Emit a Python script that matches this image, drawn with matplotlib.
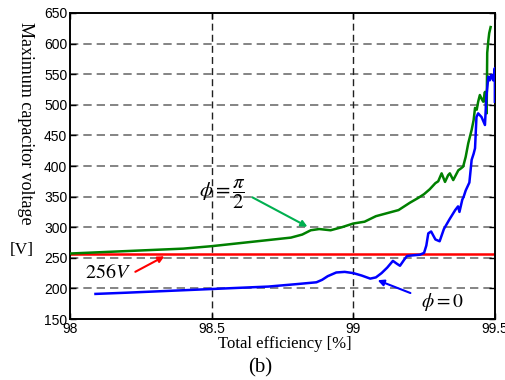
import matplotlib
matplotlib.use("Agg")
import matplotlib.pyplot as plt

plt.rcParams["mathtext.fontset"] = "stix"

# phi = pi/2 curve (green)
eff_green = [98.0, 98.1, 98.2, 98.3, 98.4, 98.5, 98.6, 98.7, 98.78, 98.82, 98.85, 98.88,
             98.92, 98.96, 99.0, 99.04, 99.08, 99.12, 99.16, 99.2, 99.23, 99.25, 99.27,
             99.29, 99.3, 99.312, 99.324, 99.335, 99.341, 99.353, 99.362, 99.371, 99.38,
             99.388, 99.397, 99.406, 99.412, 99.418, 99.425, 99.43, 99.436, 99.441, 99.447,
             99.453, 99.459, 99.465, 99.471, 99.473, 99.477, 99.48, 99.485]
v_green = [257, 259, 261, 263, 265, 269, 274, 279, 283, 288, 295, 297,
           295, 300, 306, 309, 318, 323, 328, 340, 348, 354, 362,
           372, 375, 388, 374, 385, 388, 377, 385, 393, 396,
           399, 415, 437, 448, 459, 475, 495, 492, 505, 516,
           510, 505, 521, 486, 585, 605, 617, 627]

# phi = 0 curve (blue)
eff_blue = [98.09, 98.2, 98.3, 98.4, 98.5, 98.6, 98.7, 98.8, 98.87, 98.89, 98.91, 98.94,
            98.97, 99.0, 99.03, 99.06, 99.08, 99.1, 99.12, 99.14, 99.155, 99.165, 99.18,
            99.19, 99.21, 99.235, 99.25, 99.258, 99.265, 99.275, 99.29, 99.305, 99.32,
            99.34, 99.36, 99.37, 99.375, 99.385, 99.39, 99.397, 99.41, 99.418, 99.425,
            99.43, 99.435, 99.441, 99.453, 99.465, 99.47, 99.477, 99.482, 99.488, 99.494,
            99.5, 99.5]
v_blue = [191, 193, 195, 197, 199, 201, 203, 207, 210, 214, 220, 226,
          227, 225, 221, 216, 218, 225, 234, 245, 240, 237, 247,
          253, 254, 255, 258, 270, 290, 293, 280, 277, 297,
          313, 328, 334, 325, 345, 350, 360, 373, 410, 420,
          429, 480, 486, 480, 467, 513, 546, 540, 549, 540,
          560, 505]

limit_v = 256
x_ticks = [98, 98.5, 99, 99.5]
x_ticklabels = ["98", "98.5", "99", "99.5"]
y_ticks = [150, 200, 250, 300, 350, 400, 450, 500, 550, 600, 650]

serif = ["Liberation Serif", "DejaVu Serif"]

fig = plt.figure(figsize=(5.06, 3.80), dpi=100)
ax = fig.add_axes([0.1383, 0.1605, 0.8397, 0.8053])

# grid
for yv in y_ticks[1:-1]:
    ax.axhline(yv, color="#707070", lw=1.2, ls=(0, (5, 3)), zorder=1)
for xv in x_ticks[1:-1]:
    ax.axvline(xv, color="#202020", lw=1.0, ls=(0, (5, 3)), zorder=1)

ax.plot(eff_green, v_green, color="#008000", lw=1.8, zorder=3)
ax.plot(eff_blue, v_blue, color="#0000ff", lw=1.8, zorder=3)
ax.axhline(limit_v, color="#ff0000", lw=1.8, zorder=2)

ax.set_xlim(98, 99.5)
ax.set_ylim(150, 650)
ax.set_xticks(x_ticks)
ax.set_xticklabels(x_ticklabels)
ax.set_yticks(y_ticks)
ax.tick_params(direction="in", top=True, right=True, length=4, width=1,
               labelsize=10, pad=2)
for lab in ax.get_xticklabels() + ax.get_yticklabels():
    lab.set_family("Liberation Sans")
for s in ax.spines.values():
    s.set_linewidth(1.4)

# annotations
ax.annotate("", xy=(98.847, 298.7), xytext=(98.635, 351),
            arrowprops=dict(arrowstyle="-|>", color="#00b050", lw=1.5, mutation_scale=9))
ax.text(98.537, 354, r"$\phi = \dfrac{\pi}{2}$", ha="center", va="center",
        fontsize=15, family=serif)
ax.annotate("", xy=(98.342, 254.6), xytext=(98.222, 225),
            arrowprops=dict(arrowstyle="-|>", color="#ff0000", lw=1.5, mutation_scale=9))
ax.text(98.135, 225, r"$256V$", ha="center", va="center", fontsize=14.5, family=serif)
ax.annotate("", xy=(99.077, 215), xytext=(99.211, 190.8),
            arrowprops=dict(arrowstyle="-|>", color="#0000ff", lw=1.5, mutation_scale=9))
ax.text(99.313, 178, r"$\phi = 0$", ha="center", va="center", fontsize=14, family=serif)

fig.text(25 / 506, 1 - 123 / 380, "Maximum capacitor voltage", rotation=-90,
         ha="center", va="center", fontsize=13, family=serif)
fig.text(22 / 506, 1 - 250 / 380, "[V]", ha="center", va="center", fontsize=12.5, family=serif)
fig.text(285 / 506, 1 - 344 / 380, "Total efficiency [%]", ha="center", va="center",
         fontsize=12, family=serif)
fig.text(260 / 506, 1 - 368 / 380, "(b)", ha="center", va="center", fontsize=15, family=serif)

fig.savefig("out.png", dpi=100)
